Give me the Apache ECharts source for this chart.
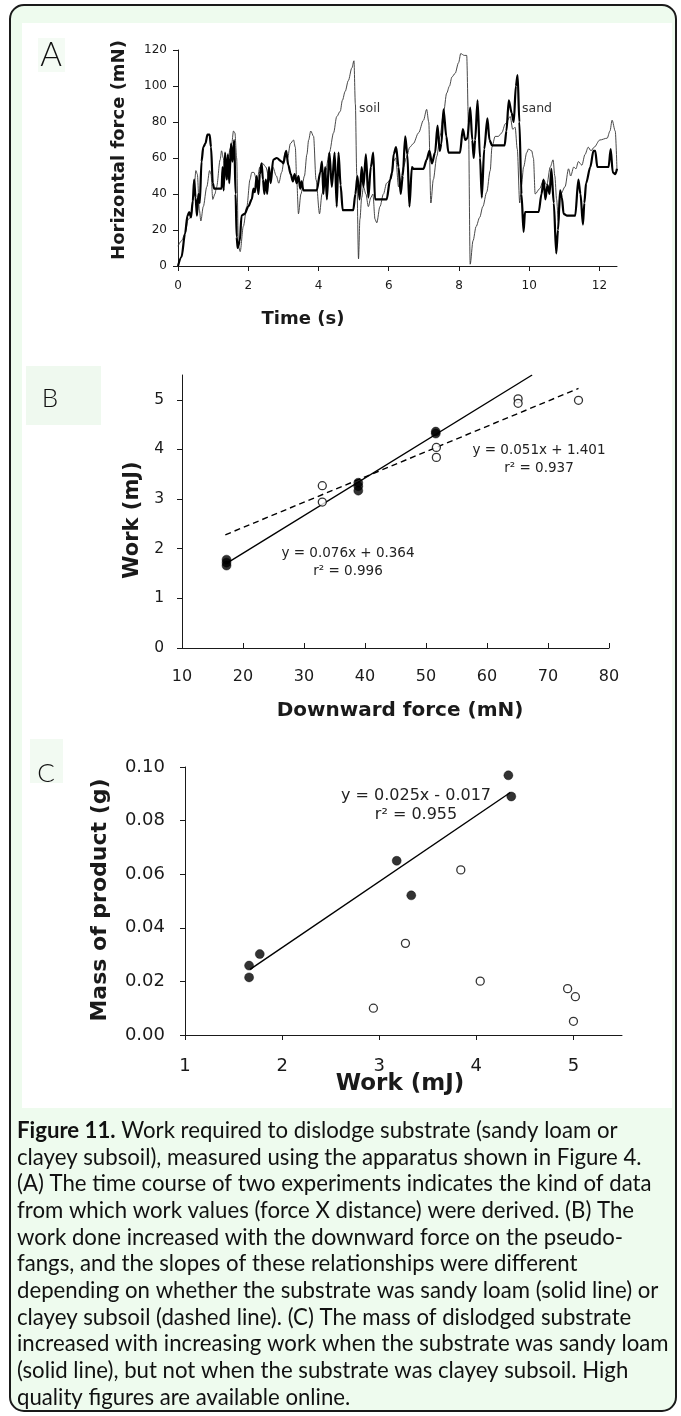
<!DOCTYPE html>
<html><head><meta charset="utf-8">
<script src="https://cdn.jsdelivr.net/npm/echarts@6/dist/echarts.min.js"></script>
<style>html,body{margin:0;padding:0;background:#fff;}#c{width:681px;height:1416px;}</style>
</head><body><div id="c"></div>
<script>
// ---------- Panel A: time course, [time (s), horizontal force (mN)] ----------
const sandTrace = [[0,0],[0.1,5],[0.2,18],[0.27,28],[0.32,30],[0.37,27],[0.42,36],[0.46,48],[0.5,38],[0.54,28],[0.58,40],[0.62,35],[0.67,58],[0.72,66],[0.78,68],[0.84,73],[0.9,73],[0.94,66],[0.99,46],[1.03,43],[1.15,43],[1.24,43],[1.27,55],[1.3,42],[1.34,63],[1.39,48],[1.42,62],[1.46,46],[1.51,68],[1.55,58],[1.6,70],[1.64,40],[1.67,16],[1.7,10],[1.76,14],[1.81,28],[1.9,29],[2.0,33],[2.1,37],[2.15,43],[2.19,41],[2.24,50],[2.29,40],[2.33,51],[2.38,57],[2.42,48],[2.46,40],[2.5,48],[2.54,40],[2.59,55],[2.64,46],[2.71,59],[2.81,60],[2.95,58],[3.0,57],[3.08,64],[3.14,56],[3.21,51],[3.27,47],[3.32,51],[3.38,46],[3.43,50],[3.48,43],[3.52,47],[3.57,42],[3.67,42],[3.95,42],[4.05,52],[4.1,58],[4.14,40],[4.19,55],[4.24,37],[4.31,63],[4.38,44],[4.46,63],[4.52,33],[4.57,63],[4.63,45],[4.69,31],[4.99,31],[5.05,40],[5.11,50],[5.17,37],[5.23,55],[5.28,44],[5.35,62],[5.42,38],[5.49,55],[5.56,63],[5.61,37],[5.66,37],[5.94,37],[6.04,48],[6.1,52],[6.14,62],[6.21,66],[6.28,55],[6.34,40],[6.4,50],[6.47,72],[6.53,62],[6.59,33],[6.66,55],[6.7,54],[6.99,54],[7.08,59],[7.16,64],[7.23,57],[7.32,63],[7.39,78],[7.45,64],[7.5,68],[7.56,87],[7.64,72],[7.7,63],[8.03,63],[8.11,76],[8.18,70],[8.24,71],[8.32,88],[8.38,70],[8.42,60],[8.46,70],[8.53,92],[8.6,60],[8.65,38],[8.72,65],[8.81,82],[8.87,70],[8.94,67],[9.3,67],[9.35,75],[9.42,92],[9.5,85],[9.56,80],[9.62,100],[9.67,106],[9.72,80],[9.78,40],[9.84,19],[9.88,30],[10.27,30],[10.35,40],[10.41,48],[10.46,37],[10.52,45],[10.58,40],[10.63,54],[10.7,35],[10.77,7],[10.82,20],[10.88,42],[10.93,38],[10.98,29],[11.07,28],[11.31,28],[11.4,48],[11.46,40],[11.53,23],[11.57,35],[11.62,46],[11.74,55],[11.83,64],[11.88,64],[11.94,55],[12.02,55],[12.26,55],[12.32,65],[12.38,52],[12.45,51],[12.5,54]];
const soilTrace = [[0,11],[0.1,14],[0.2,18],[0.29,26],[0.36,27],[0.44,37],[0.51,53],[0.55,51],[0.61,31],[0.65,25],[0.72,33],[0.82,44],[0.9,53],[0.94,51],[0.99,37],[1.05,40],[1.1,44],[1.2,59],[1.24,64],[1.29,60],[1.34,51],[1.39,48],[1.43,59],[1.48,65],[1.53,68],[1.58,75],[1.62,74],[1.67,60],[1.72,11],[1.77,8],[1.86,22],[1.96,33],[2.05,48],[2.1,52],[2.16,52],[2.25,47],[2.33,55],[2.41,57],[2.5,55],[2.6,48],[2.7,55],[2.8,50],[2.87,46],[2.95,52],[3.05,63],[3.12,60],[3.2,68],[3.29,70],[3.34,66],[3.38,48],[3.43,29],[3.5,40],[3.6,50],[3.67,62],[3.72,70],[3.78,75],[3.86,72],[3.93,48],[4.03,29],[4.1,40],[4.19,51],[4.31,63],[4.43,74],[4.52,83],[4.62,86],[4.68,92],[4.76,97],[4.85,103],[4.95,110],[5.01,114],[5.05,90],[5.09,51],[5.14,4],[5.18,26],[5.23,38],[5.28,44],[5.35,40],[5.42,33],[5.49,38],[5.55,40],[5.61,26],[5.66,24],[5.75,33],[5.85,40],[5.94,46],[6.05,48],[6.13,58],[6.2,60],[6.28,44],[6.34,48],[6.42,55],[6.5,60],[6.6,66],[6.7,68],[6.85,74],[6.99,81],[7.08,87],[7.14,80],[7.2,35],[7.27,48],[7.37,61],[7.46,72],[7.56,85],[7.65,96],[7.73,100],[7.8,105],[7.89,107],[7.99,113],[8.05,118],[8.15,117],[8.22,117],[8.27,80],[8.32,1],[8.4,14],[8.49,22],[8.59,27],[8.68,33],[8.79,41],[8.89,53],[8.94,66],[9.03,72],[9.12,72],[9.22,74],[9.32,79],[9.46,83],[9.53,76],[9.6,77],[9.66,65],[9.73,35],[9.78,45],[9.84,55],[9.93,63],[9.98,65],[10.07,64],[10.12,60],[10.17,40],[10.3,43],[10.41,48],[10.5,45],[10.6,55],[10.68,59],[10.73,50],[10.78,37],[10.83,25],[10.9,40],[11.02,44],[11.12,54],[11.18,50],[11.27,55],[11.33,54],[11.4,58],[11.5,56],[11.59,62],[11.68,66],[11.76,64],[11.85,66],[12.01,70],[12.22,71],[12.3,75],[12.36,81],[12.45,75],[12.5,53]];
const timeTicks = [0,2,4,6,8,10,12];
const forceTicks = [0,20,40,60,80,100,120];

// ---------- Panel B: [downward force (mN), work (mJ)] ----------
const sandB = [[17.3,1.78],[17.3,1.72],[17.3,1.66],[38.9,3.33],[38.9,3.26],[38.9,3.17],[51.6,4.36],[51.6,4.32]];
const soilB = [[33.0,3.27],[33.0,2.94],[51.7,4.04],[51.7,3.84],[65.1,5.02],[65.1,4.93],[75.0,4.99]];
const sandFitB = [[17.1,1.69],[67.4,5.5]];
const soilFitB = [[17.1,2.28],[75.0,5.23]];
const downForceTicks = [10,20,30,40,50,60,70,80];
const workTicksB = [0,1,2,3,4,5];

// ---------- Panel C: [work (mJ), mass of product (g)] ----------
const sandC = [[1.66,0.0259],[1.66,0.0215],[1.77,0.0302],[3.18,0.065],[3.33,0.0521],[4.33,0.0969],[4.36,0.089]];
const soilC = [[2.94,0.0100],[3.27,0.0342],[3.84,0.0616],[4.04,0.0201],[4.94,0.0173],[5.02,0.0143],[5.00,0.0051]];
const sandFitC = [[1.67,0.0245],[4.35,0.0905]];
const workTicksC = [1,2,3,4,5];
const massTicks = [0,0.02,0.04,0.06,0.08,0.10];

const captionLines = [
  '{b|Figure 11.} Work required to dislodge substrate (sandy loam or',
  'clayey subsoil), measured using the apparatus shown in Figure 4.',
  '(A) The time course of two experiments indicates the kind of data',
  'from which work values (force X distance) were derived. (B) The',
  'work done increased with the downward force on the pseudo-',
  'fangs, and the slopes of these relationships were different',
  'depending on whether the substrate was sandy loam (solid line) or',
  'clayey subsoil (dashed line). (C) The mass of dislodged substrate',
  'increased with increasing work when the substrate was sandy loam',
  '(solid line), but not when the substrate was clayey subsoil. High',
  'quality figures are available online.'
];

const FONT = 'DejaVu Sans, Verdana, sans-serif';
const INK = '#1a1a1a';

function axis(gridIndex, min, max, ticks, o) {
  return {
    gridIndex, type: 'value', min, max,
    axisLine: {show: true, onZero: false, lineStyle: {color: INK, width: 1}},
    axisTick: {show: true, inside: !!o.inside, length: o.tickLen || 5, customValues: ticks, lineStyle: {color: INK, width: 1}},
    axisLabel: {customValues: ticks, fontFamily: FONT, fontSize: o.fs, color: INK, margin: o.margin,
      formatter: o.fmt || (v => String(v))},
    splitLine: {show: false}
  };
}

// caption font size fitted to the reference line width
const mctx = document.createElement('canvas').getContext('2d');
mctx.font = '20px Lato';
const capSize = 20 * 652 / mctx.measureText('increased with increasing work when the substrate was sandy loam').width;

const graphics = [
  {type: 'rect', z: -20, shape: {x: 10, y: 5, width: 666, height: 1406, r: 14}, style: {fill: '#eefbee', stroke: '#1a1a1a', lineWidth: 2}},
  {type: 'rect', z: -19, shape: {x: 22, y: 23, width: 650, height: 1085}, style: {fill: '#ffffff'}},
  {type: 'rect', z: -18, shape: {x: 38, y: 38, width: 27, height: 34}, style: {fill: '#f4fbf4'}},
  {type: 'rect', z: -18, shape: {x: 26, y: 366, width: 75, height: 59}, style: {fill: '#eff9ef'}},
  {type: 'rect', z: -18, shape: {x: 30, y: 739, width: 33, height: 44}, style: {fill: '#f2faf2'}},
  {type: 'text', z: 50, x: 51, y: 55, style: {text: 'A', font: '300 33px Lato', fill: '#111', align: 'center', verticalAlign: 'middle'}},
  {type: 'text', z: 50, x: 50, y: 399, style: {text: 'B', font: '300 26px Lato', fill: '#111', align: 'center', verticalAlign: 'middle'}},
  {type: 'text', z: 50, x: 46, y: 774, style: {text: 'C', font: '300 26px Lato', fill: '#111', align: 'center', verticalAlign: 'middle'}},
  // axis titles
  {type: 'text', z: 50, x: 119, y: 150, rotation: Math.PI / 2, style: {text: 'Horizontal force (mN)', font: 'bold 18px ' + FONT, fill: INK, align: 'center', verticalAlign: 'middle'}},
  {type: 'text', z: 50, x: 303, y: 319, style: {text: 'Time (s)', font: 'bold 18px ' + FONT, fill: INK, align: 'center', verticalAlign: 'middle'}},
  {type: 'text', z: 50, x: 133, y: 520, rotation: Math.PI / 2, style: {text: 'Work (mJ)', font: 'bold 21px ' + FONT, fill: INK, align: 'center', verticalAlign: 'middle'}},
  {type: 'text', z: 50, x: 400, y: 711, style: {text: 'Downward force (mN)', font: 'bold 20px ' + FONT, fill: INK, align: 'center', verticalAlign: 'middle'}},
  {type: 'text', z: 50, x: 100, y: 900, rotation: Math.PI / 2, style: {text: 'Mass of product (g)', font: 'bold 22px ' + FONT, fill: INK, align: 'center', verticalAlign: 'middle'}},
  {type: 'text', z: 50, x: 400, y: 1084, style: {text: 'Work (mJ)', font: 'bold 23px ' + FONT, fill: INK, align: 'center', verticalAlign: 'middle'}},
  // series labels and fit annotations
  {type: 'text', z: 50, x: 359, y: 109, style: {text: 'soil', font: '12.5px ' + FONT, fill: '#333', align: 'left', verticalAlign: 'middle'}},
  {type: 'text', z: 50, x: 522, y: 109, style: {text: 'sand', font: '12.5px ' + FONT, fill: '#333', align: 'left', verticalAlign: 'middle'}},
  {type: 'text', z: 50, x: 539, y: 450, style: {text: 'y = 0.051x + 1.401', font: '13.5px ' + FONT, fill: '#222', align: 'center', verticalAlign: 'middle'}},
  {type: 'text', z: 50, x: 539, y: 468, style: {text: 'r² = 0.937', font: '13.5px ' + FONT, fill: '#222', align: 'center', verticalAlign: 'middle'}},
  {type: 'text', z: 50, x: 348, y: 553, style: {text: 'y = 0.076x + 0.364', font: '13.5px ' + FONT, fill: '#222', align: 'center', verticalAlign: 'middle'}},
  {type: 'text', z: 50, x: 348, y: 571, style: {text: 'r² = 0.996', font: '13.5px ' + FONT, fill: '#222', align: 'center', verticalAlign: 'middle'}},
  {type: 'text', z: 50, x: 416, y: 796, style: {text: 'y = 0.025x - 0.017', font: '16px ' + FONT, fill: '#222', align: 'center', verticalAlign: 'middle'}},
  {type: 'text', z: 50, x: 416, y: 815, style: {text: 'r² = 0.955', font: '16px ' + FONT, fill: '#222', align: 'center', verticalAlign: 'middle'}}
];
captionLines.forEach((t, i) => {
  graphics.push({type: 'text', z: 50, x: 17, y: 1131 + i * 26.65, style: {
    text: t, font: capSize.toFixed(2) + 'px Lato', fill: '#111', align: 'left', verticalAlign: 'middle',
    rich: {b: {fontWeight: 'bold', fontFamily: 'Lato', fontSize: capSize, fill: '#111'}}
  }});
});

const filled = (xi, yi, data) => ({type: 'scatter', xAxisIndex: xi, yAxisIndex: yi, data, symbol: 'circle', symbolSize: 9, z: 5,
  itemStyle: {color: '#000', borderColor: '#000', borderWidth: 0.5}});
const open = (xi, yi, data) => ({type: 'scatter', xAxisIndex: xi, yAxisIndex: yi, data, symbol: 'circle', symbolSize: 8, z: 5,
  itemStyle: {color: '#fff', borderColor: '#000', borderWidth: 1.3}});
const fit = (xi, yi, data, dashed) => ({type: 'line', xAxisIndex: xi, yAxisIndex: yi, data, showSymbol: false, z: 3,
  lineStyle: {color: '#000', width: 1.4, type: dashed ? [6, 4] : 'solid'}});

const chart = echarts.init(document.getElementById('c'), null, {renderer: 'canvas'});
chart.setOption({
  animation: false,
  backgroundColor: '#ffffff',
  grid: [
    {left: 178, top: 50, width: 439, height: 216},
    {left: 182, top: 375, width: 427, height: 273},
    {left: 185, top: 767, width: 437, height: 268}
  ],
  xAxis: [
    axis(0, 0, 12.5, timeTicks, {fs: 12, margin: 14}),
    axis(1, 10, 80, downForceTicks, {fs: 16, margin: 21, inside: true}),
    axis(2, 1, 5.5, workTicksC, {fs: 18, margin: 22})
  ],
  yAxis: [
    axis(0, 0, 120, forceTicks, {fs: 12, margin: 11}),
    axis(1, 0, 5.5, workTicksB, {fs: 15.5, margin: 18}),
    axis(2, 0, 0.1, massTicks, {fs: 18, margin: 20, fmt: v => v.toFixed(2)})
  ],
  series: [
    {type: 'line', xAxisIndex: 0, yAxisIndex: 0, data: soilTrace, showSymbol: false, smooth: 0.3, smoothMonotone: 'x',
      lineStyle: {color: '#333', width: 0.9}, z: 2},
    {type: 'line', xAxisIndex: 0, yAxisIndex: 0, data: sandTrace, showSymbol: false, smooth: 0.3, smoothMonotone: 'x',
      lineStyle: {color: '#000', width: 2.2}, z: 3},
    fit(1, 1, sandFitB, false),
    fit(1, 1, soilFitB, true),
    filled(1, 1, sandB),
    open(1, 1, soilB),
    fit(2, 2, sandFitC, false),
    filled(2, 2, sandC),
    open(2, 2, soilC)
  ],
  graphic: {elements: graphics}
});
</script>
</body></html>
